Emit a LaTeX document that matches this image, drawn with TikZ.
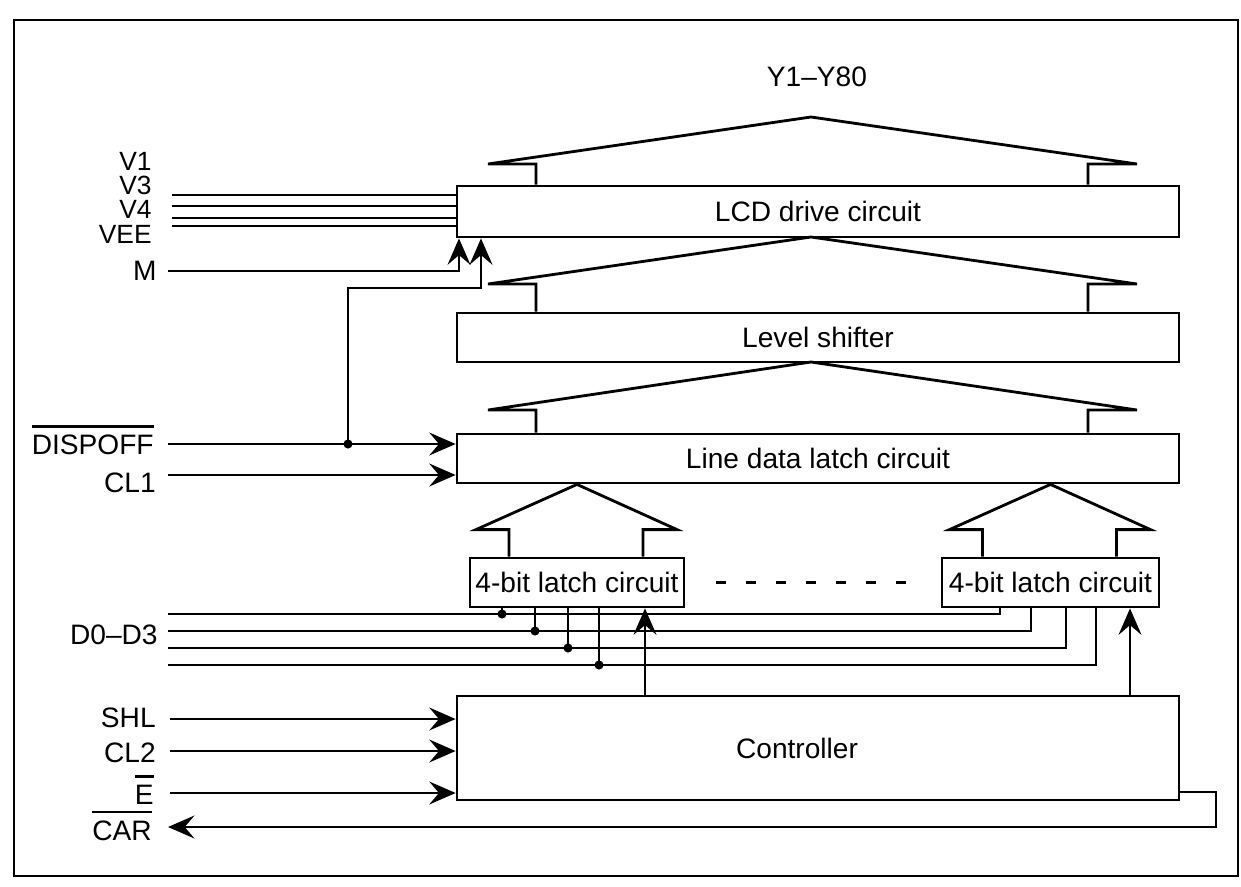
\documentclass[tikz,border=0pt]{standalone}
\usepackage{fontspec}
\setmainfont{Liberation Sans}
\usetikzlibrary{arrows.meta,calc}
\newcommand{\sigbar}[1]{\vbox{\hrule height 1.4pt\kern 4pt\hbox{#1}}}

\begin{document}
\begin{tikzpicture}[x=0.02cm,y=-0.02cm,
    font=\fontsize{16}{18}\selectfont,
    wire/.style={line width=1.6pt},
    sig/.style={wire,-{Stealth[length=15pt,width=13pt,inset=5.5pt]}},
    blk/.style={draw,line width=1.6pt,minimum height=0.98cm,inner sep=1pt},
    lbl/.style={anchor=east,text height=11.5pt,text depth=0pt,inner sep=0pt}]
    \useasboundingbox (0,0) rectangle (1241,886);
    \draw[wire] (14,20) rectangle (1238,876);
    % blocks
    \node[blk,minimum width=14.44cm,minimum height=1.02cm] (lcd) at (818,211.5) {LCD drive circuit};
    \node[blk,minimum width=14.44cm] (lvl) at (818,337.5) {Level shifter};
    \node[blk,minimum width=14.44cm] (ldl) at (818,458.5) {Line data latch circuit};
    \node[blk,minimum width=4.28cm] (lat1) at (577,582.5) {4-bit latch circuit};
    \node[blk,minimum width=4.34cm] (lat2) at (1050.5,582.5) {4-bit latch circuit};
    \node[blk,minimum width=14.44cm,minimum height=2.08cm,
      label={[xshift=-0.42cm]center:Controller}] (ctrl) at (818,748) {};
    \node (yout) at (817,77) {Y1–Y80};
    % wide buses between the stages
    \foreach \lo/\ap/\t in {lcd/117/164, lvl/237/284, ldl/362/410}
      \draw[wire] (536,0 |- \lo.north) |- (488,\t) -- (811,\ap) -- (1137,\t) -| (1088,0 |- \lo.north);
    \foreach \b in {lat1,lat2}
      \draw[wire] ($(\b.north)+(-68,0)$) |- ($(\b.north)+(-101,-27)$) -- (\b.north |- ldl.south)
        -- ($(\b.north)+(100,-27)$) -| ($(\b.north)+(66,0)$);
    \draw[wire,dash pattern=on 5.7pt off 11.3pt] ([xshift=0.62cm]lat1.east) -- ([xshift=-0.7cm]lat2.west);
    % signal names
    \foreach \nm/\y/\txt in {v1/161/V1, v3/185/V3, v4/209.5/V4, vee/234/VEE}
      \node[lbl,font=\fontsize{15}{17}\selectfont,text height=10.8pt] (\nm) at (152,\y) {\txt};
    \foreach \nm/\x/\y/\txt in {m/157/270.5/M, dispoff/154/444.5/\sigbar{DISPOFF}, cl1/156/482/CL1,
        dd/158/634/D0–D3, shl/156/717/SHL, cl2/156/752/CL2, e/154/794/\sigbar{E}, car/152/830/\sigbar{CAR}}
      \node[lbl] (\nm) at (\x,\y) {\txt};
    % supply lines
    \foreach \y [count=\i] in {195,206,218,226}{
      \coordinate (vl\i) at (172,\y);
      \draw[wire] (vl\i) -- (vl\i -| lcd.west);}
    \coordinate (min) at (168,271);
    \draw[sig] (min) -| (459,0 |- lcd.south);
    \coordinate (dispin) at (168,444);
    \draw[sig] (dispin) -- (dispin -| ldl.west);
    \coordinate (dj) at (348,444);
    \fill (dj) circle (2.6pt);
    \draw[sig] (dj) |- (481,288) -- (481,0 |- lcd.south);
    \coordinate (cl1in) at (168,475);
    \draw[sig] (cl1in) -- (cl1in -| ldl.west);
    % data bus D0-D3
    \foreach \y/\a/\b [count=\i] in {614/502/1000, 631/535/1031, 648/568/1066, 665/599/1096}{
      \coordinate (d\i) at (168,\y);
      \draw[wire] (d\i) -| (\b,0 |- lat2.south);
      \draw[wire] (\a,0 |- lat1.south) -- (d\i -| \a,0);
      \fill (d\i -| \a,0) circle (2.6pt);}
    \foreach \x/\b in {645/lat1, 1130/lat2}
      \draw[sig] (\x,0 |- ctrl.north) -- (\x,0 |- \b.south);
    % controller inputs and carry out
    \foreach \nm/\y in {shl/719, cl2/751, e/793}{
      \coordinate (\nm in) at (170,\y);
      \draw[sig] (\nm in) -- (\nm in -| ctrl.west);}
    \coordinate (carout) at (168,827);
    \draw[sig] (ctrl.east |- 0,792) -| (1216,827) -- (carout);
\end{tikzpicture}
\end{document}
